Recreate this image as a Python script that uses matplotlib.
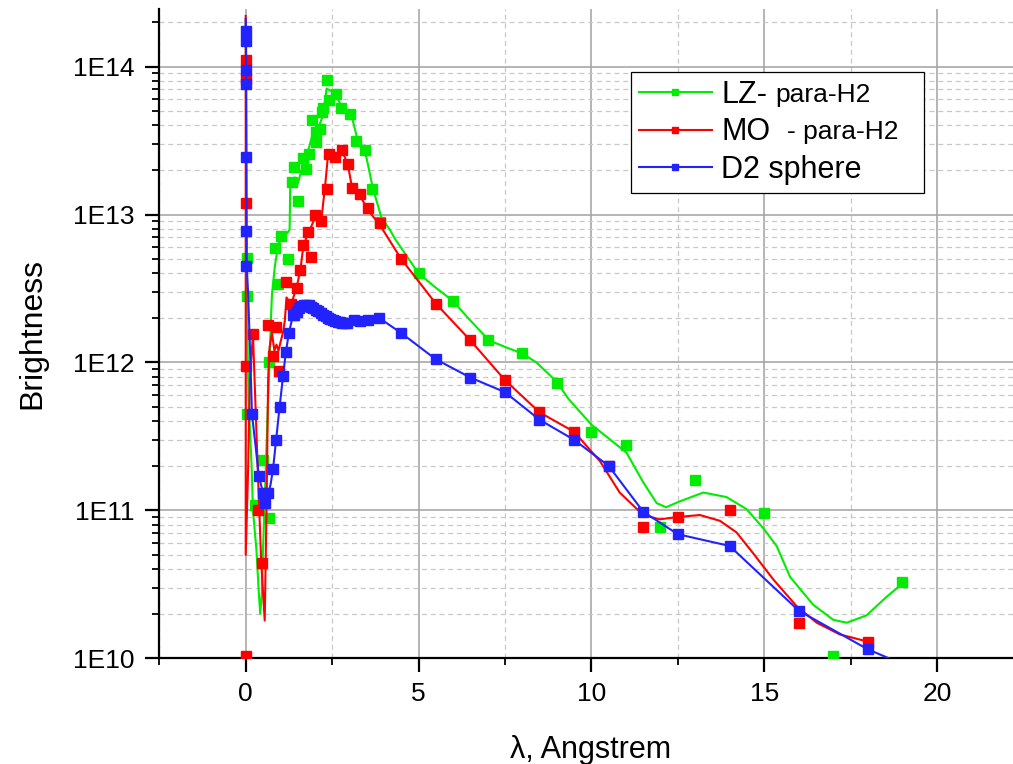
"""
    plot.py
        -- brightness vs wavelength for three moderators
"""
import matplotlib

matplotlib.use("Agg")
import matplotlib.pyplot as plt
import numpy as np
from matplotlib.lines import Line2D
from matplotlib.ticker import FuncFormatter, LogLocator, MultipleLocator, NullFormatter

plt.rcParams["font.family"] = ["Liberation Sans", "DejaVu Sans"]

# ---- LZ para-H2 (green) ----
lz_pts_x = [0.03, 0.03, 0.05, 0.26, 0.50, 0.67, 0.68, 0.84, 0.92, 1.03, 1.22, 1.34,
            1.40, 1.51, 1.66, 1.73, 1.82, 1.92, 2.03, 2.04, 2.14, 2.21, 2.24, 2.36,
            2.41, 2.60, 2.75, 3.01, 3.20, 3.44, 3.66, 3.88, 5, 6, 7, 8, 9, 10, 11,
            12, 13, 15, 17, 19]
lz_pts_y = [5.1e12, 2.8e12, 4.5e11, 1.08e11, 2.2e11, 1.0e12, 8.9e10, 5.9e12, 3.4e12,
            7.2e12, 5.0e12, 1.66e13, 2.1e13, 1.23e13, 2.4e13, 2.04e13, 2.57e13,
            4.37e13, 3.1e13, 3.6e13, 3.8e13, 4.9e13, 5.25e13, 8.1e13, 5.9e13, 6.5e13,
            5.25e13, 4.8e13, 3.16e13, 2.75e13, 1.48e13, 8.9e12, 4.0e12, 2.6e12,
            1.41e12, 1.15e12, 7.3e11, 3.4e11, 2.75e11, 7.7e10, 1.6e11, 9.6e10,
            1.04e10, 3.3e10]
lz_curve_x = [0.0, 0.02, 0.05, 0.08, 0.17, 0.21, 0.31, 0.38, 0.42, 0.47, 0.50, 0.55,
              0.60, 0.65, 0.69, 0.72, 0.76, 0.84, 0.94, 1.10, 1.22, 1.27, 1.29, 1.42,
              1.51, 1.66, 1.76, 1.95, 2.09, 2.24, 2.34, 2.58, 2.77, 3.06, 3.25, 3.49,
              3.68, 3.93, 4.17, 4.31, 5.0, 5.5, 6.0, 6.43, 7.04, 7.55, 8.0, 8.41, 9.0,
              9.33, 10.0, 10.63, 11.02, 11.5, 11.89, 12.16, 12.56, 13.24, 13.91,
              14.49, 14.97, 15.36, 15.75, 16.42, 17.0, 17.39, 17.96, 18.54, 19.0]
lz_curve_y = [2.0e14, 1.0e13, 1.6e12, 5.75e11, 2.0e11, 1.0e11, 5.4e10, 2.75e10,
              2.0e10, 2.8e10, 5.4e10, 1.17e11, 2.6e11, 5.75e11, 1.0e12, 1.7e12,
              2.9e12, 4.4e12, 6.3e12, 7.1e12, 7.6e12, 7.9e12, 1.66e13, 1.78e13,
              1.62e13, 2.2e13, 2.45e13, 3.6e13, 3.8e13, 4.7e13, 7.1e13, 6.6e13,
              5.4e13, 4.7e13, 3.1e13, 2.45e13, 1.5e13, 9.5e12, 7.9e12, 6.9e12,
              4.0e12, 3.2e12, 2.6e12, 2.0e12, 1.41e12, 1.26e12, 1.15e12, 1.0e12,
              7.4e11, 5.7e11, 3.8e11, 2.9e11, 2.45e11, 1.55e11, 1.12e11, 1.05e11,
              1.15e11, 1.32e11, 1.23e11, 1.02e11, 7.6e10, 5.75e10, 3.55e10, 2.3e10,
              1.82e10, 1.74e10, 1.95e10, 2.6e10, 3.2e10]

# ---- MO para-H2 (red) ----
mo_pts_x = [0.0, 0.0, 0.0, 0.0, 0.02, 0.21, 0.36, 0.47, 0.65, 0.79, 0.89, 0.96, 1.16,
            1.32, 1.47, 1.58, 1.66, 1.80, 1.88, 2.0, 2.19, 2.34, 2.41, 2.58, 2.79,
            2.96, 3.08, 3.30, 3.54, 3.88, 4.5, 5.5, 6.5, 7.5, 8.5, 9.5, 10.5, 11.5,
            12.5, 14, 16, 18]
mo_pts_y = [1.1e14, 8.3e13, 1.2e13, 9.5e11, 1.04e10, 1.55e12, 1.0e11, 4.4e10,
            1.78e12, 1.1e12, 1.74e12, 8.7e11, 3.5e12, 2.5e12, 3.2e12, 4.2e12, 6.2e12,
            7.6e12, 5.2e12, 1.0e13, 9.1e12, 1.48e13, 2.57e13, 2.45e13, 2.75e13,
            2.2e13, 1.51e13, 1.38e13, 1.1e13, 8.7e12, 5.0e12, 2.5e12, 1.41e12,
            7.6e11, 4.6e11, 3.4e11, 2.0e11, 7.7e10, 9.0e10, 1.0e11, 1.74e10, 1.29e10]
mo_curve_x = [0.0, 0.0, 0.07, 0.12, 0.21, 0.29, 0.36, 0.45, 0.55, 0.60, 0.65, 0.69,
              0.76, 0.83, 0.89, 0.95, 1.0, 1.08, 1.13, 1.18, 1.25, 1.32, 1.47, 1.58,
              1.66, 1.80, 1.88, 2.0, 2.19, 2.30, 2.38, 2.5, 2.6, 2.79, 2.96, 3.08,
              3.30, 3.54, 3.88, 4.5, 5.5, 6.5, 7.5, 8.5, 9.5, 10.25, 10.82, 11.5,
              11.98, 12.47, 13.14, 13.72, 14.2, 14.69, 15.27, 15.94, 16.52, 17.19,
              17.87, 18.0]
mo_curve_y = [2.2e14, 5.0e10, 1.9e11, 7.8e11, 1.55e12, 4.6e11, 1.6e11, 4.4e10,
              1.8e10, 9.5e10, 7.8e11, 1.26e12, 1.58e12, 1.2e12, 1.32e12, 1.2e12,
              1.35e12, 1.6e12, 1.9e12, 2.75e12, 2.6e12, 2.5e12, 3.2e12, 4.2e12,
              5.9e12, 7.6e12, 8.1e12, 9.5e12, 9.3e12, 1.58e13, 2.5e13, 2.4e13,
              2.4e13, 2.7e13, 2.15e13, 1.5e13, 1.35e13, 1.07e13, 8.5e12, 5.0e12,
              2.5e12, 1.41e12, 7.6e11, 4.6e11, 3.4e11, 2.15e11, 1.32e11, 9.3e10,
              8.7e10, 9.0e10, 9.3e10, 8.5e10, 7.1e10, 5.1e10, 3.4e10, 2.25e10,
              1.74e10, 1.45e10, 1.32e10, 1.29e10]

# ---- D2 sphere (blue) ----
d2_pts_x = [0.02, 0.02, 0.02, 0.02, 0.02, 0.02, 0.02, 0.18, 0.38, 0.50, 0.57, 0.65,
            0.79, 0.88, 0.98, 1.08, 1.16, 1.25, 1.37, 1.40, 1.47, 1.54, 1.61, 1.68,
            1.75, 1.82, 1.89, 1.96, 2.03, 2.10, 2.17, 2.24, 2.31, 2.38, 2.45, 2.52,
            2.59, 2.66, 2.73, 2.80, 2.87, 2.94, 3.13, 3.30, 3.54, 3.86, 4.5, 5.5,
            6.5, 7.5, 8.5, 9.5, 10.5, 11.5, 12.5, 14, 16, 18]
d2_pts_y = [1.75e14, 1.5e14, 9.5e13, 7.6e13, 2.45e13, 7.7e12, 4.5e12, 4.5e11,
            1.7e11, 1.32e11, 1.12e11, 1.32e11, 1.9e11, 3.0e11, 5.0e11, 8.1e11,
            1.17e12, 1.58e12, 2.1e12, 2.08e12, 2.2e12, 2.32e12, 2.4e12, 2.44e12,
            2.46e12, 2.44e12, 2.38e12, 2.32e12, 2.27e12, 2.22e12, 2.15e12, 2.1e12,
            2.05e12, 2.01e12, 1.97e12, 1.94e12, 1.91e12, 1.89e12, 1.87e12, 1.86e12,
            1.86e12, 1.86e12, 1.95e12, 1.9e12, 1.95e12, 2.0e12, 1.58e12, 1.05e12,
            7.9e11, 6.3e11, 4.1e11, 3.0e11, 2.0e11, 9.8e10, 6.9e10, 5.75e10,
            2.1e10, 1.15e10]
d2_curve_x = [0.0, 0.01, 0.02, 0.03, 0.07, 0.12, 0.16, 0.18, 0.28, 0.38, 0.50, 0.57,
              0.65, 0.72, 0.79, 0.88, 0.98, 1.08, 1.16, 1.25, 1.37, 1.51, 1.61, 1.71,
              1.80, 1.90, 2.0, 2.09, 2.19, 2.29, 2.38, 2.48, 2.58, 2.67, 2.77, 2.87,
              2.96, 3.10, 3.30, 3.54, 3.86, 4.5, 5.5, 6.5, 7.5, 8.5, 9.5, 10.5, 11.5,
              12.5, 14.0, 16.0, 18.0, 18.7]
d2_curve_y = [2.1e14, 1.7e14, 3.2e13, 4.5e12, 2.9e12, 1.32e12, 6.6e11, 4.5e11,
              2.8e11, 1.7e11, 1.32e11, 1.15e11, 1.26e11, 1.5e11, 1.9e11, 3.0e11,
              5.0e11, 8.1e11, 1.17e12, 1.58e12, 2.1e12, 2.27e12, 2.4e12, 2.45e12,
              2.45e12, 2.35e12, 2.3e12, 2.2e12, 2.13e12, 2.07e12, 2.0e12, 1.96e12,
              1.92e12, 1.89e12, 1.87e12, 1.86e12, 1.87e12, 1.94e12, 1.91e12,
              1.95e12, 2.0e12, 1.58e12, 1.05e12, 7.9e11, 6.3e11, 4.1e11, 3.0e11,
              2.0e11, 9.8e10, 6.9e10, 5.75e10, 2.1e10, 1.15e10, 9.8e9]

GREEN = "#00ec00"
RED = "#ff0000"
BLUE = "#2222ff"

W, H = 1013, 764
fig = plt.figure(figsize=(W / 100, H / 100), dpi=100)
ax = fig.add_axes([159.3 / W, (H - 658.3) / H, (W - 159.3) / W, (658.3 - 9) / H])

ax.plot(lz_curve_x, lz_curve_y, color=GREEN, lw=1.5, zorder=3)
ax.plot(lz_pts_x, lz_pts_y, ls="none", marker="s", ms=6.5, color=GREEN, zorder=4)
ax.plot(mo_curve_x, mo_curve_y, color=RED, lw=1.5, zorder=5)
ax.plot(mo_pts_x, mo_pts_y, ls="none", marker="s", ms=6.5, color=RED, zorder=6)
ax.plot(d2_curve_x, d2_curve_y, color=BLUE, lw=1.5, zorder=7)
ax.plot(d2_pts_x, d2_pts_y, ls="none", marker="s", ms=6.5, color=BLUE, zorder=8)

ax.set_yscale("log")
ax.set_xlim(-2.5, 22.2)
ax.set_ylim(1e10, 2.45e14)

ax.xaxis.set_major_locator(MultipleLocator(5))
ax.xaxis.set_minor_locator(MultipleLocator(2.5))
ax.yaxis.set_major_locator(LogLocator(base=10, numticks=10))
ax.yaxis.set_minor_locator(LogLocator(base=10, subs=np.arange(2, 10), numticks=10))
ax.yaxis.set_major_formatter(FuncFormatter(lambda v, p: f"1E{int(round(np.log10(v)))}"))
ax.yaxis.set_minor_formatter(NullFormatter())

ax.set_axisbelow(True)
ax.grid(which="major", color="#a0a0a0", lw=1.1, ls="-")
ax.grid(which="minor", color="#c8c8c8", lw=0.9, ls=(0, (4, 3)))

for side in ("top", "right"):
    ax.spines[side].set_visible(False)
for side in ("left", "bottom"):
    ax.spines[side].set_linewidth(1.6)

ax.tick_params(which="major", length=10, width=1.6, direction="out", labelsize=19)
ax.tick_params(which="minor", length=5, width=1.3, direction="out")
ax.tick_params(axis="x", which="major", pad=7)
ax.tick_params(axis="y", which="major", pad=8)

ax.set_xlabel("λ, Angstrem", fontsize=22)
ax.xaxis.set_label_coords(0.505, -0.118)
ax.set_ylabel("Brightness", fontsize=23)
ax.yaxis.set_label_coords(-0.131, 0.5)

handles = [
    Line2D([], [], color=GREEN, lw=1.5, marker="s", ms=5),
    Line2D([], [], color=RED, lw=1.5, marker="s", ms=5),
    Line2D([], [], color=BLUE, lw=1.5, marker="s", ms=5),
]
leg = fig.legend(
    handles,
    ["LZ-", "MO", "D2 sphere"],
    loc="upper left",
    bbox_to_anchor=(631 / W, 1 - 72 / H, (924 - 631) / W, 0.0),
    mode="expand",
    borderaxespad=0,
    fontsize=22,
    handlelength=2.4,
    handletextpad=0.3,
    labelspacing=0.25,
    borderpad=0.25,
    fancybox=False,
    framealpha=1,
    edgecolor="black",
    numpoints=1,
)
leg.get_frame().set_linewidth(0.9)

# second, smaller part of the first two labels
fig.canvas.draw()
renderer = fig.canvas.get_renderer()
for txt, extra, gap in zip(leg.get_texts()[:2], ["para-H2", "- para-H2"], [8, 17]):
    bb = txt.get_window_extent(renderer)
    fig.text((bb.x1 + gap) / W, (bb.y0 + bb.y1) / 2 / H, extra,
             fontsize=19, ha="left", va="center", zorder=20)

fig.savefig("out.png", dpi=100)
